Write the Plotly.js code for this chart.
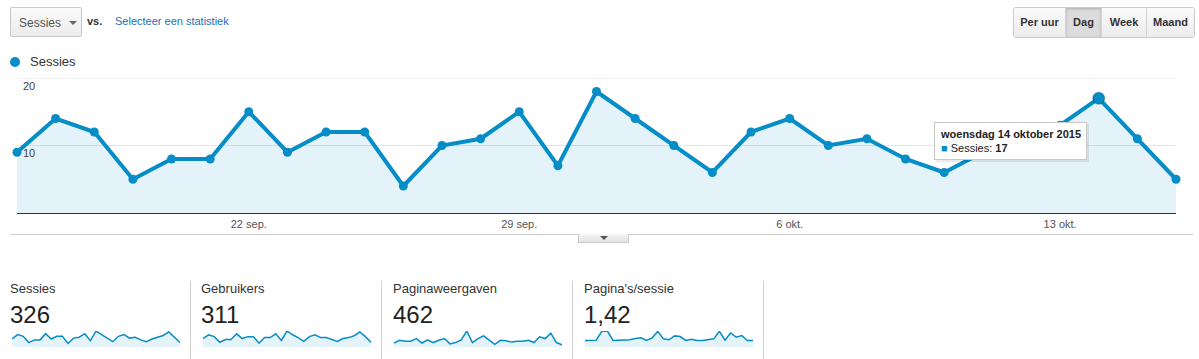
<!DOCTYPE html>
<html>
<head>
<meta charset="utf-8">
<script src="https://cdn.plot.ly/plotly-3.0.1.min.js"></script>
<style>
  html, body { margin:0; padding:0; background:#fff; width:1199px; height:359px; overflow:hidden; font-family: Arial, "Liberation Sans", Helvetica, sans-serif; }
  #chart { position:absolute; left:0; top:0; width:1199px; height:359px; }
  .ov { position:absolute; white-space:nowrap; }
  .dd { left:10px; top:7px; width:70px; height:28px; border:1px solid #c9c9c9; border-radius:2px; background:linear-gradient(#fafafa,#ececec); box-sizing:content-box; }
  .dd span { position:absolute; left:8px; top:8px; font-size:12px; color:#555; }
  .dd i { position:absolute; left:58px; top:13px; width:0; height:0; border-left:4px solid transparent; border-right:4px solid transparent; border-top:4px solid #666; }
  .vs { left:87px; top:15px; font-size:11px; font-weight:bold; color:#333; }
  .sel { left:115px; top:15px; font-size:11px; color:#1b6fb8; }
  .btns { left:1013px; top:7px; height:29px; border:1px solid #c9c9c9; border-radius:3px; display:flex; overflow:hidden; }
  .btns div { height:29px; line-height:29px; font-size:11px; font-weight:bold; color:#333; text-align:center; background:linear-gradient(#fafafa,#ececec); border-left:1px solid #d4d4d4; }
  .btns div:first-child { border-left:none; }
  .btns div.on { background:#dcdcdc; box-shadow: inset 0 1px 3px rgba(0,0,0,0.2); }
  .leg { left:10px; top:54px; font-size:13px; color:#333; }
  .leg b { display:inline-block; width:10px; height:10px; border-radius:50%; background:#058dc7; margin-right:10px; vertical-align:-1px; }
  .tab { left:578px; top:234px; width:49px; height:8px; border:1px solid #c9c9c9; border-top:none; background:linear-gradient(#f6f6f6,#e2e2e2); }
  .tab i { position:absolute; left:21px; top:2px; width:0; height:0; border-left:4px solid transparent; border-right:4px solid transparent; border-top:4px solid #555; }
  .sep { width:1px; background:#d0d0d0; top:281px; height:78px; }
  .clab { font-size:13px; color:#333; top:281px; }
  .cval { font-size:24px; color:#222; top:301px; }
</style>
</head>
<body>
<div id="chart"></div>
<div id="overlay"></div>
<script>
// ---- Data ----
const dates = ['2015-09-16','2015-09-17','2015-09-18','2015-09-19','2015-09-20','2015-09-21','2015-09-22','2015-09-23','2015-09-24','2015-09-25','2015-09-26','2015-09-27','2015-09-28','2015-09-29','2015-09-30','2015-10-01','2015-10-02','2015-10-03','2015-10-04','2015-10-05','2015-10-06','2015-10-07','2015-10-08','2015-10-09','2015-10-10','2015-10-11','2015-10-12','2015-10-13','2015-10-14','2015-10-15','2015-10-16'];
const sessions = [9,14,12,5,8,8,15,9,12,12,4,10,11,15,7,18,14,10,6,12,14,10,11,8,6,9,11,13,17,11,5];
const users = [9,13,11,5,8,8,14,9,11,11,4,10,10,14,7,17,13,10,6,11,13,10,10,8,6,9,10,12,16,11,5];
const pageviews = [9,15,13,13,19,9,16,10,15,19,7,10,16,36,10,19,25,16,6,15,14,11,13,13,15,10,23,19,31,10,5];
const pagesPerSession = [1.0,1.0,1.05,2.4,2.45,1.0,1.0,1.0,1.1,1.3,1.4,1.0,1.4,2.4,1.25,1.1,1.7,1.6,1.0,1.2,1.0,1.0,1.1,1.25,2.4,1.05,2.15,1.5,1.75,1.0,1.0];
const xTickVals = ['2015-09-22','2015-09-29','2015-10-06','2015-10-13'];
const xTickText = ['22 sep.','29 sep.','6 okt.','13 okt.'];
const yTickVals = [10, 20];
const cardLabels = ['Sessies','Gebruikers','Paginaweergaven',"Pagina's/sessie"];
const cardTotals = ['326','311','462','1,42'];
const periodButtons = ['Per uur','Dag','Week','Maand'];
const metricName = 'Sessies';
const hoverIndex = 28;
const hoverDateText = 'woensdag 14 oktober 2015';

// ---- Overlay (HTML controls) ----
const W = 1199, H = 359;
const BLUE = '#058dc7', FILL = 'rgba(5,141,199,0.11)';
const ov = document.getElementById('overlay');
let html = '';
html += '<div class="ov dd"><span>' + metricName + '</span><i></i></div>';
html += '<div class="ov vs">vs.</div>';
html += '<div class="ov sel">Selecteer een statistiek</div>';
const btnW = [51, 35, 44, 47];
html += '<div class="ov btns">' + periodButtons.map((b,i)=>'<div class="' + (b==='Dag'?'on':'') + '" style="width:' + btnW[i] + 'px">' + b + '</div>').join('') + '</div>';
html += '<div class="ov leg"><b></b>' + metricName + '</div>';
html += '<div class="ov tab"><i></i></div>';
const cardX = [10, 201, 393, 584];
const sepX = [190, 381, 572, 763];
sepX.forEach(x => { html += '<div class="ov sep" style="left:' + x + 'px"></div>'; });
cardLabels.forEach((l,i) => {
  html += '<div class="ov clab" style="left:' + cardX[i] + 'px">' + l + '</div>';
  html += '<div class="ov cval" style="left:' + cardX[i] + 'px">' + cardTotals[i] + '</div>';
});
ov.innerHTML = html;

// ---- Plotly ----
const px = v => v / W;
const py = v => 1 - v / H;

const traces = [];
traces.push({
  x: dates, y: sessions, type: 'scatter', mode: 'lines+markers',
  line: {color: BLUE, width: 4}, marker: {color: BLUE, size: 9},
  fill: 'tozeroy', fillcolor: FILL, cliponaxis: false, hoverinfo: 'skip',
  xaxis: 'x', yaxis: 'y'
});
traces.push({
  x: [dates[hoverIndex]], y: [sessions[hoverIndex]], type: 'scatter', mode: 'markers',
  marker: {color: BLUE, size: 12, line: {color: 'rgba(0,0,0,0.18)', width: 1.5}},
  cliponaxis: false, hoverinfo: 'skip', xaxis: 'x', yaxis: 'y'
});
const sparkSeries = [sessions, users, pageviews, pagesPerSession];
const sparkDomX = [[12,180],[203,371],[394,562],[585,753]];
const tipText = '<b>' + hoverDateText + '</b><br><span style="color:' + BLUE + '">■</span> ' + metricName + ': <b>' + sessions[hoverIndex] + '</b>';
const tipBase = {
  xref: 'x', yref: 'y', x: dates[hoverIndex], y: sessions[hoverIndex],
  xanchor: 'right', yanchor: 'top', showarrow: false, align: 'left',
  font: {family: 'Arial, "Liberation Sans", sans-serif', size: 11, color: '#222'}, borderpad: 5
};
const layout = {
  width: W, height: H, margin: {l:0, r:0, t:0, b:0},
  paper_bgcolor: '#fff', plot_bgcolor: 'rgba(0,0,0,0)', showlegend: false,
  font: {family: 'Arial, "Liberation Sans", sans-serif', size: 11, color: '#555'},
  xaxis: {
    domain: [px(17), px(1176)], range: [dates[0], dates[dates.length-1]], type: 'date',
    tickmode: 'array', tickvals: xTickVals, ticktext: xTickText, ticks: '',
    showgrid: false, zeroline: false, showline: true, linecolor: '#333', linewidth: 1,
    tickfont: {size: 11, color: '#555'}, ticklabelstandoff: 1, fixedrange: true
  },
  yaxis: {
    domain: [py(213), py(78)], range: [0, 20], tickmode: 'array', tickvals: yTickVals,
    ticks: '', showgrid: true, gridcolor: '#e6e6e6', gridwidth: 1, zeroline: false, showline: false,
    ticklabelposition: 'inside bottom', tickfont: {size: 11, color: '#444'}, ticklabelstandoff: 3, fixedrange: true
  },
  annotations: [
    Object.assign({}, tipBase, {
      text: tipText, xshift: -10, yshift: -26,
      font: {family: 'Arial, "Liberation Sans", sans-serif', size: 11, color: 'rgba(0,0,0,0)'},
      bgcolor: 'rgba(0,0,0,0.08)', bordercolor: 'rgba(0,0,0,0.05)', borderwidth: 1
    }),
    Object.assign({}, tipBase, {
      text: tipText, xshift: -12, yshift: -24,
      bgcolor: '#fff', bordercolor: '#c8c8c8', borderwidth: 1
    })
  ],
  shapes: [
    {type: 'line', xref: 'paper', yref: 'paper', x0: px(10), x1: px(1193), y0: py(234.5), y1: py(234.5),
     line: {color: '#cfcfcf', width: 1}},
    {type: 'line', xref: 'x domain', yref: 'y', x0: 0, x1: 1, y0: yTickVals[1], y1: yTickVals[1],
     line: {color: '#e6e6e6', width: 1}, layer: 'below'}
  ]
};
sparkSeries.forEach((s, i) => {
  const n = i + 2;
  traces.push({
    x: dates, y: s, type: 'scatter', mode: 'lines', line: {color: BLUE, width: 1.5},
    fill: 'tozeroy', fillcolor: FILL, hoverinfo: 'skip', cliponaxis: false,
    xaxis: 'x' + n, yaxis: 'y' + n
  });
  layout['xaxis' + n] = {domain: [px(sparkDomX[i][0]), px(sparkDomX[i][1])], range: [dates[0], dates[dates.length-1]], type: 'date', visible: false, fixedrange: true, anchor: 'y' + n};
  layout['yaxis' + n] = {domain: [py(347), py(331)], range: [0, Math.max(...s)], visible: false, fixedrange: true, anchor: 'x' + n};
});
Plotly.newPlot('chart', traces, layout, {staticPlot: true, displayModeBar: false});
</script>
</body>
</html>
